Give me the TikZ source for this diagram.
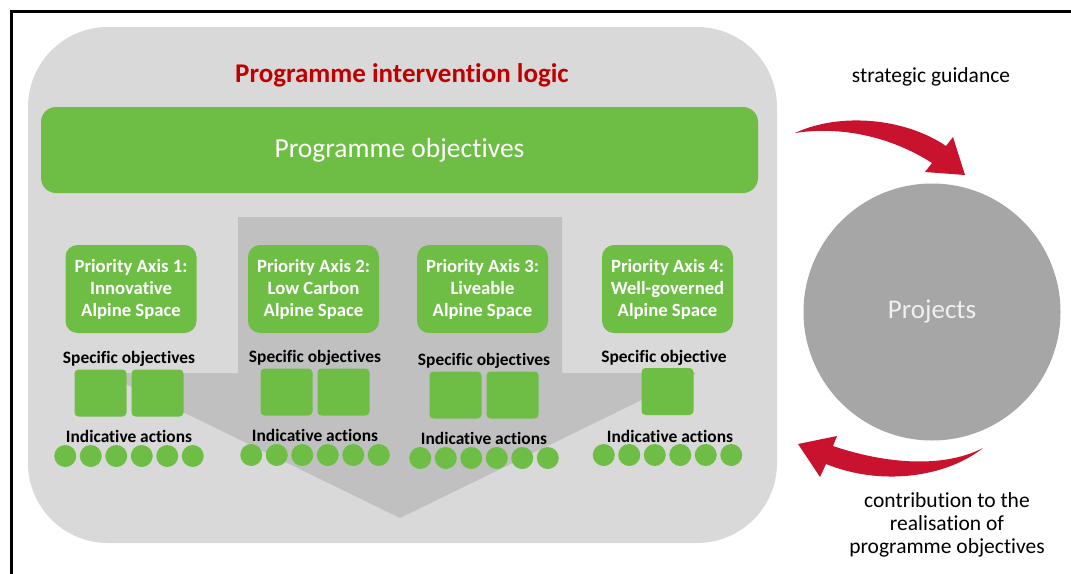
\documentclass[tikz,border=0pt]{standalone}
\usepackage{fontspec}
\setmainfont{Carlito}[Ligatures={NoCommon}]
\usepackage{tikz}
\definecolor{panelgray}{RGB}{217,217,217}
\definecolor{arrowgray}{RGB}{192,192,192}
\definecolor{projgray}{RGB}{166,166,166}
\definecolor{leafgreen}{RGB}{110,190,70}
\definecolor{titlered}{RGB}{192,0,0}
\definecolor{arrowred}{RGB}{200,18,46}

\begin{document}
\begin{tikzpicture}[x=1pt,y=-1pt,
    axisbox/.style={fill=leafgreen,rounded corners=12pt,text=white,inner sep=0pt,
      minimum width=131pt,minimum height=88pt,align=center,
      font=\fontsize{18.7}{22}\selectfont\bfseries},
    objsquare/.style={fill=leafgreen,rounded corners=4pt,inner sep=0pt,
      minimum width=52pt,minimum height=47pt},
    actiondot/.style={circle,fill=leafgreen,inner sep=0pt,minimum size=22pt},
    rowlabel/.style={inner sep=0pt,font=\fontsize{17.4}{20}\selectfont\bfseries},
    note/.style={align=center,inner sep=0pt,font=\fontsize{21.5}{23}\selectfont}]

  \clip (0,0) rectangle (1071,573);
  \draw[line width=3pt] (11,600) -- (11,11) -- (1100,11);

  % panel and the big arrow behind it all
  \fill[panelgray,rounded corners=80pt] (28,27) rectangle (777,543);
  \fill[arrowgray] (238,217) -- (562,217) -- (562,373) -- (697,373)
    -- (400,518) -- (103,373) -- (238,373) -- cycle;

  \node[text=titlered,inner sep=0pt,font=\fontsize{27}{30}\selectfont\bfseries]
    (title) at (402,75) {Programme intervention logic};
  \node[fill=leafgreen,rounded corners=15pt,minimum width=717pt,minimum height=86pt,
    text=white,font=\fontsize{27.5}{30}\selectfont] (progobj) at (399.5,150) {Programme objectives};

  \foreach \cx/\txt [count=\c] in {131/Innovative,313.5/Low Carbon,482.5/Liveable,667.5/Well-governed}
    \node[axisbox] (pa\c) at (\cx,289) {Priority Axis \c:\\\txt\\Alpine Space};

  % three columns with two specific objectives
  \foreach \cx/\dy [count=\c] in {129/0,315/-1,484/2} {
    \node[rowlabel] (so\c) at (\cx,359+\dy) {Specific objectives};
    \node[objsquare] (sq\c-1) at (\cx-28.5,393+\dy) {};
    \node[objsquare] (sq\c-2) at (\cx+28.5,393+\dy) {};
    \node[rowlabel] (ia\c) at (\cx,436+\dy) {Indicative actions};
    \foreach \k in {1,...,6}
      \node[actiondot] (dot\c-\k) at ({\cx+(\k-3.5)*25.5},456+\dy) {};
  }
  % last column, one objective
  \node[rowlabel] (so4) at (664,358) {Specific objective};
  \node[objsquare] (sq4-1) at (667.5,391.5) {};
  \node[rowlabel] (ia4) at (670,436) {Indicative actions};
  \foreach \k in {1,...,6}
    \node[actiondot] (dot4-\k) at ({667.5+(\k-3.5)*25.5},455) {};

  % projects side
  \node[circle,fill=projgray,minimum size=257pt,inner sep=0pt,text=white!94!black,
    font=\fontsize{27}{30}\selectfont] (proj) at (932,312) {Projects};
  \node[note] (guide) at (931,77) {strategic guidance};
  \node[note] (contrib) at (947,525) {contribution to the\\realisation of\\programme objectives};

  \fill[arrowred] (795,133) .. controls (840,112) and (905,118) .. (946,146)
    -- (953,137) -- (965,175) -- (925,172) -- (932,163)
    .. controls (890,136) and (840,126) .. (795,133) -- cycle;
  \fill[arrowred] (983,448) .. controls (940,470) and (880,462) .. (833,446)
    -- (837,436) -- (798,444) -- (820,477) -- (826,464)
    .. controls (880,486) and (945,478) .. (983,448) -- cycle;
\end{tikzpicture}
\end{document}
